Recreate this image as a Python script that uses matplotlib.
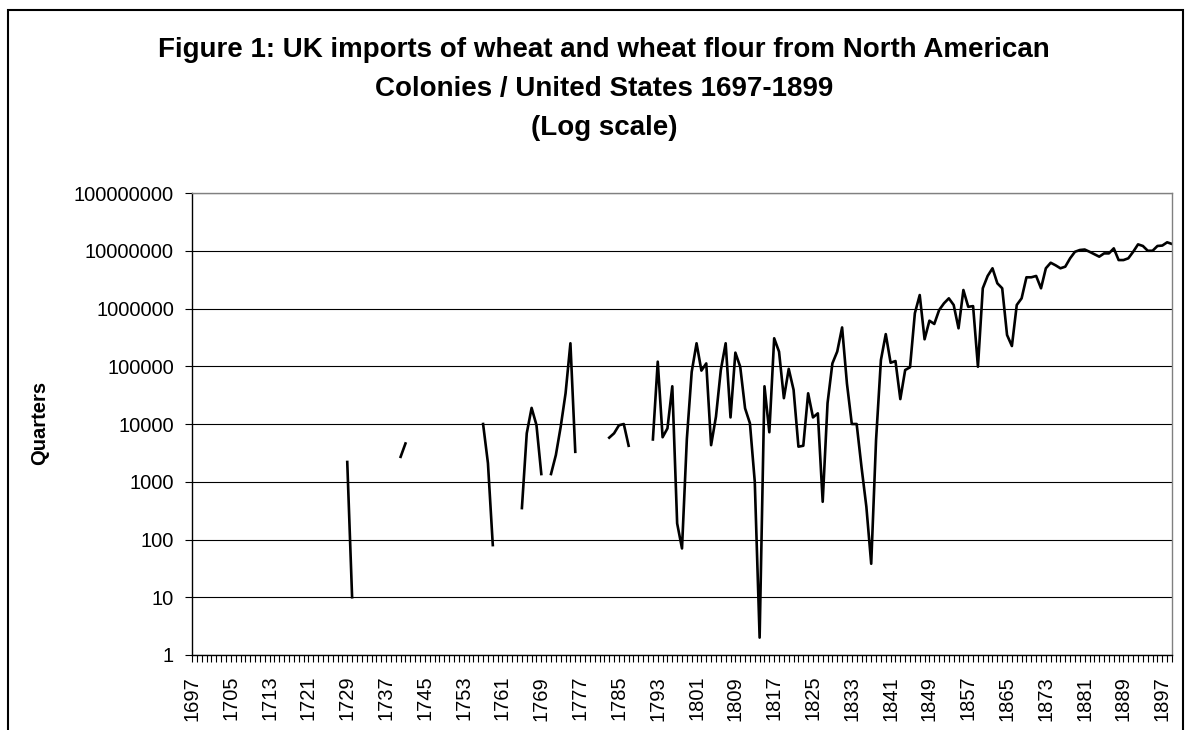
import numpy as np
import pandas as pd
import matplotlib
matplotlib.use("Agg")
import matplotlib.pyplot as plt
from matplotlib.patches import Rectangle

plt.rcParams['font.family'] = ['Liberation Sans', 'DejaVu Sans']

years = np.arange(1697, 1900)

# scattered colonial-era records (other years have no data)
early_years = [1729, 1730, 1740, 1741, 1757, 1758, 1759, 1765, 1766, 1767, 1768,
               1769, 1771, 1772, 1773, 1774, 1775, 1776, 1783, 1784, 1785, 1786, 1787]
early_quarters = [2200, 10, 2700, 4600, 10000, 2100, 80, 350, 6900, 19000, 9600,
                  1360, 1360, 2900, 9000, 34000, 250000, 3300, 5800, 6900, 9500, 10000, 4200]

# unbroken series 1792-1899
later_start = 1792
later_quarters = [
    5400, 120000, 5900, 8400, 45000, 190, 70, 5500, 80000,                 # 1792-1800
    250000, 84000, 112000, 4300, 13400, 86000, 250000, 13000, 172000, 98000,  # 1801-1810
    18700, 10300, 1000, 2, 45000, 7200, 305000, 179000, 28000, 90000,      # 1811-1820
    39000, 4050, 4200, 34000, 13000, 15300, 450, 23000, 112000, 180000,    # 1821-1830
    470000, 50000, 10000, 10000, 1800, 370, 38, 5300, 128000, 360000,      # 1831-1840
    115000, 123000, 27000, 86000, 96000, 830000, 1710000, 293000, 615000, 540000,  # 1841-1850
    940000, 1230000, 1500000, 1150000, 454000, 2090000, 1070000, 1100000, 98000, 2240000,  # 1851-1860
    3660000, 4970000, 2730000, 2240000, 348000, 224000, 1150000, 1500000, 3470000, 3470000,  # 1861-1870
    3660000, 2240000, 4970000, 6200000, 5600000, 4970000, 5300000, 7400000, 9600000, 10300000,  # 1871-1880
    10500000, 9600000, 8700000, 7900000, 9000000, 9000000, 11000000, 6900000, 6900000, 7400000,  # 1881-1890
    9600000, 12900000, 12100000, 10000000, 10000000, 12100000, 12300000, 14000000, 13100000,  # 1891-1899
]

y_ticks = [1, 10, 100, 1000, 10000, 100000, 1000000, 10000000, 100000000]
x_label_years = list(range(1697, 1898, 8))

quarters = pd.Series(np.nan, index=years)
quarters.loc[early_years] = early_quarters
quarters.loc[later_start:later_start + len(later_quarters) - 1] = later_quarters

W, H = 1185, 730
fig = plt.figure(figsize=(W / 100, H / 100), dpi=100)
ax = fig.add_axes([192 / W, 1 - 655 / H, 980 / W, 462 / H])

ax.plot(quarters.index, quarters.values, color='black', lw=1.9, solid_joinstyle='round')

ax.set_yscale('log')
ax.set_ylim(1, 1e8)
ax.set_xlim(1697, 1899)
ax.set_yticks(y_ticks)
ax.set_yticklabels([str(v) for v in y_ticks])
ax.minorticks_off()
ax.set_xticks(x_label_years)
ax.set_xticklabels([str(y) for y in x_label_years], rotation=90)
ax.set_xticks(years, minor=True)

ax.tick_params(axis='both', which='both', direction='out', length=5, width=0.8,
               colors='black', labelsize=14.5)
ax.tick_params(axis='x', which='major', pad=10)
ax.tick_params(axis='y', which='major', pad=8)

ax.yaxis.grid(True, color='black', lw=0.8)
ax.set_axisbelow(True)
for side in ['left', 'bottom']:
    ax.spines[side].set_color('black')
    ax.spines[side].set_linewidth(1.0)
for side in ['top', 'right']:
    ax.spines[side].set_color('#808080')
    ax.spines[side].set_linewidth(1.0)

title_lines = ["Figure 1: UK imports of wheat and wheat flour from North American",
               "Colonies / United States 1697-1899",
               "(Log scale)"]
for i, line in enumerate(title_lines):
    fig.text(0.51, 1 - (50 + 39 * i) / H, line, ha='center', va='center',
             fontsize=20, fontweight='bold')

fig.text(40 / W, 1 - 423 / H, "Quarters", rotation=90, ha='center', va='center',
         fontsize=14.5, fontweight='bold')

fig.patches.append(Rectangle((8 / W, -0.1), 1175 / W, 1 - 10 / H + 0.1,
                             transform=fig.transFigure, fill=False,
                             ec='black', lw=1.5))

fig.savefig("out.png", dpi=100)
